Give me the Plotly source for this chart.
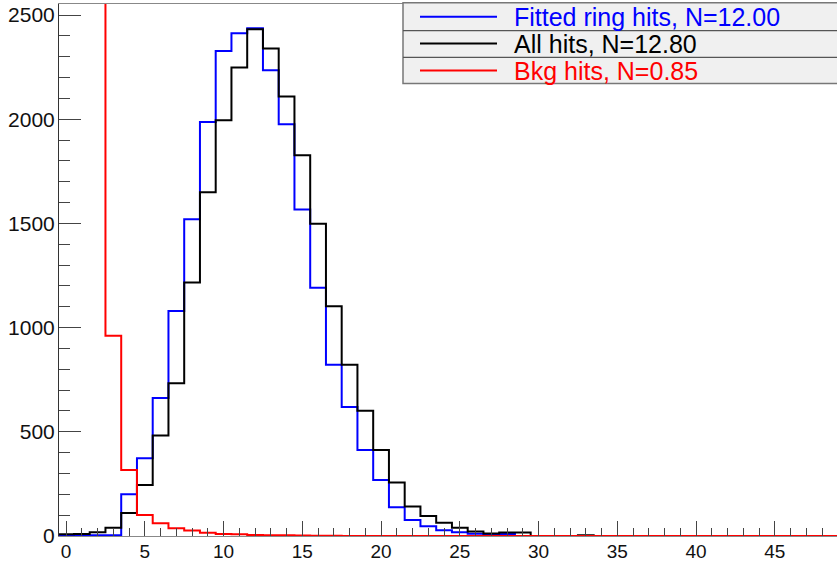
import plotly.graph_objects as go

# Bin centres 0..49 (width 1, edges at half-integers)
bin_centers = list(range(50))

fitted_ring_hits = [0, 0, 3, 3, 200, 373, 662, 1080, 1520, 1987,
                    2328, 2413, 2437, 2235, 1976, 1567, 1191, 822, 619, 413,
                    269, 138, 77, 47, 28, 18, 11, 9, 10, 0,
                    0, 0, 0, 0, 0, 0, 0, 0, 0, 0,
                    0, 0, 0, 0, 0, 0, 0, 0, 0, 0]

all_hits = [8, 10, 18, 40, 110, 245, 482, 733, 1217, 1650,
            1995, 2248, 2432, 2340, 2109, 1827, 1498, 1103, 822, 601,
            413, 257, 142, 96, 64, 40, 22, 12, 17, 17,
            0, 0, 0, 3, 0, 0, 0, 0, 0, 0,
            0, 0, 0, 0, 0, 0, 0, 0, 0, 0]

bkg_hits = [9600, 8200, 3500, 961, 317, 101, 61, 37, 26, 16,
            10, 8, 5, 4, 3, 2, 1, 1, 0, 0,
            0, 0, 0, 0, 0, 0, 0, 0, 0, 0,
            0, 0, 0, 0, 0, 0, 0, 0, 0, 0,
            0, 0, 0, 0, 0, 0, 0, 0, 0, 0]

legend_labels = ["Fitted ring hits, N=12.00", "All hits, N=12.80", "Bkg hits, N=0.85"]
colors = ["#0000ff", "#000000", "#ff0000"]
series = [fitted_ring_hits, all_hits, bkg_hits]

W, H = 837, 562
ML, MR, MT, MB = 59, 0, 4, 26
pw, ph = W - ML - MR, H - MT - MB

def px(x):
    return (x - ML) / pw

def py(y):
    return (H - MB - y) / ph

fig = go.Figure()
for vals, name, col in zip(series, legend_labels, colors):
    edges = [c - 0.5 for c in bin_centers] + [bin_centers[-1] + 0.5]
    ys = list(vals) + [vals[-1]]
    fig.add_trace(go.Scatter(x=edges, y=ys, mode="lines", name=name,
                             line=dict(color=col, width=2, shape="hv"),
                             showlegend=False))

font_family = "Liberation Sans, Arial, Helvetica, sans-serif"

shapes = []
annotations = []
# legend box
shapes.append(dict(type="rect", xref="paper", yref="paper",
                   x0=px(403), x1=px(845), y0=py(83.5), y1=py(2.7),
                   fillcolor="#f0f0f0", line=dict(color="#777777", width=1.5),
                   layer="above"))
for sep in [30.7, 57.3]:
    shapes.append(dict(type="line", xref="paper", yref="paper",
                       x0=px(403), x1=px(845), y0=py(sep), y1=py(sep),
                       line=dict(color="#555555", width=1.2), layer="above"))
row_y = [16.7, 43.5, 70.5]
for yy, lab, col in zip(row_y, legend_labels, colors):
    shapes.append(dict(type="line", xref="paper", yref="paper",
                       x0=px(420), x1=px(497), y0=py(yy), y1=py(yy),
                       line=dict(color=col, width=2), layer="above"))
    annotations.append(dict(xref="paper", yref="paper", x=px(512), y=py(yy + 0.5),
                            xanchor="left", yanchor="middle", showarrow=False,
                            text=lab, font=dict(family=font_family, size=25, color=col)))

fig.update_layout(
    width=W, height=H,
    margin=dict(l=ML, r=MR, t=MT, b=MB, autoexpand=False),
    paper_bgcolor="white", plot_bgcolor="white",
    font=dict(family=font_family, color="#000000"),
    shapes=shapes, annotations=annotations,
    xaxis=dict(range=[-0.45, 48.95], showgrid=False, zeroline=False, automargin=False,
               showline=True, linecolor="#888888", linewidth=1, mirror=True,
               ticks="inside", ticklen=15, tickcolor="#444444", tickwidth=1,
               tick0=0, dtick=5, tickfont=dict(size=19, color="#111111"),
               ticklabelstandoff=-2,
               minor=dict(ticks="inside", ticklen=8, tickcolor="#444444", dtick=1, tick0=0, showgrid=False)),
    yaxis=dict(range=[0, 2553], showgrid=False, zeroline=False, automargin=False,
               showline=True, linecolor="#333333", linewidth=1,
               ticks="inside", ticklen=22, tickcolor="#444444", tickwidth=1,
               tick0=0, dtick=500, tickfont=dict(size=21, color="#111111"),
               ticklabelstandoff=-1,
               minor=dict(ticks="inside", ticklen=11, tickcolor="#444444", dtick=100, tick0=0, showgrid=False)),
)

fig.write_html("out.html", config={"displayModeBar": False},
               post_script="document.body.style.margin='0';document.body.style.overflow='hidden';")
